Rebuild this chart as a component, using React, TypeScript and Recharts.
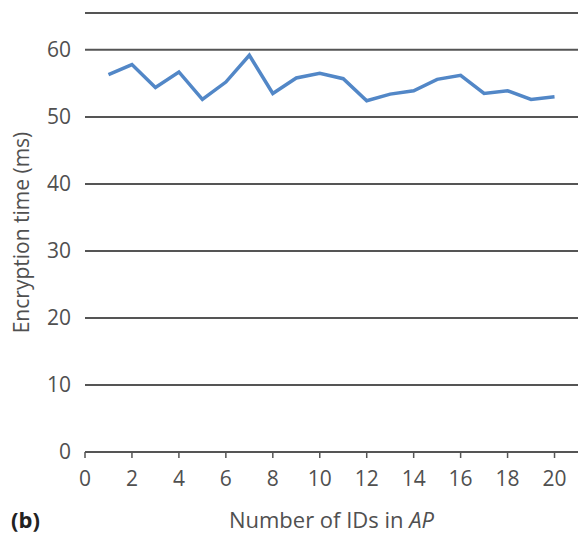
import React from 'react';
import { LineChart, Line, XAxis, YAxis, CartesianGrid } from 'recharts';

const idCounts = [1, 2, 3, 4, 5, 6, 7, 8, 9, 10, 11, 12, 13, 14, 15, 16, 17, 18, 19, 20];
const encryptionTimes = [56.3, 57.8, 54.4, 56.7, 52.6, 55.2, 59.2, 53.5, 55.8, 56.5, 55.7, 52.4, 53.4, 53.9, 55.6, 56.2, 53.5, 53.9, 52.6, 53.0];
const xTicks = [0, 2, 4, 6, 8, 10, 12, 14, 16, 18, 20];
const yTicks = [0, 10, 20, 30, 40, 50, 60, 65.5];

const data = idCounts.map((n, i) => ({ n, t: encryptionTimes[i] }));

const FONT = '"Open Sans", "Noto Sans", sans-serif';
const TEXT = '#505050';
const GRID = '#555555';

const XTitle = (props: any) => {
  const vb = props.viewBox || {};
  const cx = vb.x + vb.width / 2;
  return (
    <g>
      <text x={11} y={528} fontFamily={FONT} fontSize={22} fontWeight={700} fill="#222">(b)</text>
      <text x={cx} y={528} textAnchor="middle" fontFamily={FONT} fontSize={22} fill={TEXT}>
        Number of IDs in <tspan fontStyle="italic">AP</tspan>
      </text>
    </g>
  );
};

const YTitle = (props: any) => {
  const vb = props.viewBox || {};
  const cy = vb.y + vb.height / 2;
  return (
    <text x={29} y={cy} transform={`rotate(-90, 29, ${cy})`} textAnchor="middle" fontFamily={FONT} fontSize={21} fill={TEXT}>
      Encryption time (ms)
    </text>
  );
};

export default function App() {
  return (
    <div style={{ position: 'absolute', left: 0, top: 0, background: '#fff' }}>
      <LineChart width={578} height={533} data={data} margin={{ top: 13, right: 0, left: 0, bottom: 0 }}>
        <CartesianGrid vertical={false} stroke={GRID} strokeWidth={2} />
        <XAxis
          dataKey="n"
          type="number"
          domain={[0, 21]}
          ticks={xTicks}
          interval={0}
          height={81}
          axisLine={{ stroke: GRID, strokeWidth: 2 }}
          tickLine={{ stroke: GRID, strokeWidth: 1.5 }}
          tickSize={6}
          tickMargin={13}
          tick={{ fontFamily: FONT, fontSize: 21, fill: TEXT }}
          label={{ content: XTitle } as any}
        />
        <YAxis
          type="number"
          domain={[0, 65.5]}
          ticks={yTicks}
          interval={0}
          width={85}
          axisLine={false}
          tickLine={false}
          tickMargin={8}
          tickFormatter={(v: number) => (v > 60 ? '' : String(v))}
          tick={{ fontFamily: FONT, fontSize: 21, fill: TEXT }}
          label={{ content: YTitle } as any}
        />
        <Line
          dataKey="t"
          stroke="#5287c7"
          strokeWidth={3.5}
          dot={false}
          isAnimationActive={false}
        />
      </LineChart>
    </div>
  );
}
